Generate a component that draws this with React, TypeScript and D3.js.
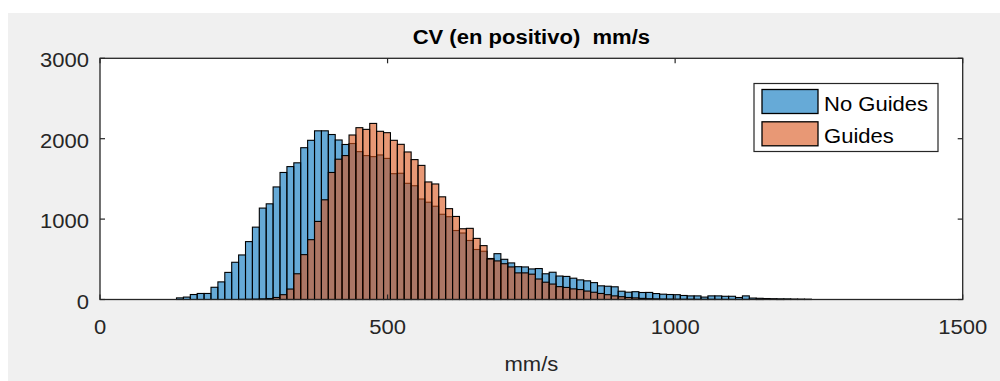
import React from "react";
import * as d3 from "d3";

const title = "CV (en positivo)  mm/s";
const xLabel = "mm/s";
const xTicks = [0, 500, 1000, 1500];
const yTicks = [0, 1000, 2000, 3000];
const seriesNames = ["No Guides", "Guides"];
const binStart = 133;
const binWidth = 12;

const noGuides = [
  20, 30, 62, 75, 75, 152, 219, 337, 463, 554,
  720, 900, 1137, 1190, 1400, 1580, 1653, 1700, 1888, 1980,
  2098, 2098, 2052, 1984, 1928, 1940, 1839, 1790, 1777, 1798,
  1755, 1565, 1570, 1445, 1415, 1250, 1210, 1160, 1060, 1030,
  858, 827, 734, 622, 600, 510, 570, 500, 455, 408,
  405, 380, 385, 320, 339, 292, 287, 265, 244, 232,
  210, 170, 165, 158, 103, 91, 97, 87, 88, 74,
  66, 62, 60, 50, 45, 45, 30, 45, 45, 40,
  40, 25, 45, 18, 15, 12, 10, 8, 8, 6,
  5, 4,
];

const guides = [
  0, 0, 0, 0, 0, 0, 0, 0, 0, 2,
  3, 5, 8, 12, 25, 60, 130, 320, 558, 744,
  971, 1240, 1580, 1745, 1790, 2046, 2137, 2116, 2190, 2092,
  2075, 1980, 1930, 1835, 1740, 1668, 1462, 1437, 1277, 1130,
  1033, 880, 885, 760, 670, 504, 480, 445, 405, 331,
  331, 315, 255, 215, 192, 160, 150, 132, 124, 105,
  90, 75, 60, 45, 35, 25, 20, 14, 10, 8,
  6, 5, 4, 3, 3, 2, 2, 2, 1, 1,
  1, 1, 1, 0, 1, 0, 0, 1, 0, 0,
  0, 0,
];

const colors = ["#0072BD", "#D95319"];

const W = 1000;
const H = 381;
const plot = { left: 100, right: 962.7, top: 58.3, bottom: 299.5 };
const FONT = "'Liberation Sans', Arial, Helvetica, sans-serif";
const SX = 1.13;
const axisColor = "#262626";

function T({ x, y, anchor = "middle", size = 19.5, weight = "normal", fill = axisColor, children }: any) {
  return (
    <text
      transform={`translate(${x},${y}) scale(${SX},1)`}
      textAnchor={anchor}
      fontFamily={FONT}
      fontSize={size}
      fontWeight={weight}
      fill={fill}
      style={{ whiteSpace: "pre" }}
    >
      {children}
    </text>
  );
}

export default function App() {
  const x = d3.scaleLinear().domain([0, 1500]).range([plot.left, plot.right]);
  const y = d3.scaleLinear().domain([0, 3000]).range([plot.bottom, plot.top]);
  const series = [noGuides, guides];
  const tickLen = 5;

  return (
    <svg
      width={W}
      height={H}
      style={{ position: "absolute", left: 0, top: 0 }}
    >
      <rect x={0} y={0} width={W} height={H} fill="#ffffff" />
      <rect x={8} y={13} width={W - 8} height={H - 13} fill="#F0F0F0" />
      <rect
        x={plot.left}
        y={plot.top}
        width={plot.right - plot.left}
        height={plot.bottom - plot.top}
        fill="#ffffff"
      />
      {series.map((vals, s) => (
        <g key={s}>
          {vals.map((v, i) => {
            const x0 = x(binStart + i * binWidth);
            const x1 = x(binStart + (i + 1) * binWidth);
            return (
              <rect
                key={i}
                x={x0}
                y={y(v)}
                width={x1 - x0}
                height={y(0) - y(v)}
                fill={colors[s]}
                fillOpacity={0.6}
                stroke="#000"
                strokeWidth={1.1}
              />
            );
          })}
        </g>
      ))}
      <rect
        x={plot.left}
        y={plot.top}
        width={plot.right - plot.left}
        height={plot.bottom - plot.top}
        fill="none"
        stroke={axisColor}
        strokeWidth={1.3}
      />
      {xTicks.map((t) => (
        <g key={"x" + t}>
          <line x1={x(t)} x2={x(t)} y1={plot.bottom} y2={plot.bottom - tickLen} stroke={axisColor} strokeWidth={1.2} />
          <line x1={x(t)} x2={x(t)} y1={plot.top} y2={plot.top + tickLen} stroke={axisColor} strokeWidth={1.2} />
          <T x={x(t)} y={plot.bottom + 34}>{t}</T>
        </g>
      ))}
      {yTicks.map((t) => (
        <g key={"y" + t}>
          <line x1={plot.left} x2={plot.left + tickLen} y1={y(t)} y2={y(t)} stroke={axisColor} strokeWidth={1.2} />
          <line x1={plot.right} x2={plot.right - tickLen} y1={y(t)} y2={y(t)} stroke={axisColor} strokeWidth={1.2} />
          <T x={plot.left - 11} y={y(t) + 9} anchor="end">{t}</T>
        </g>
      ))}
      <T x={(plot.left + plot.right) / 2} y={44} weight="bold" fill="#000">{title}</T>
      <T x={(plot.left + plot.right) / 2} y={371}>{xLabel}</T>
      <g>
        <rect x={754} y={83.5} width={184} height={68} fill="#ffffff" stroke={axisColor} strokeWidth={1.2} />
        {seriesNames.map((n, s) => (
          <g key={n}>
            <rect
              x={762}
              y={89.5 + s * 32.3}
              width={56}
              height={24}
              fill={colors[s]}
              fillOpacity={0.6}
              stroke="#000"
              strokeWidth={1.3}
            />
            <T x={824} y={110.5 + s * 32.5} anchor="start" fill="#000">{n}</T>
          </g>
        ))}
      </g>
    </svg>
  );
}
